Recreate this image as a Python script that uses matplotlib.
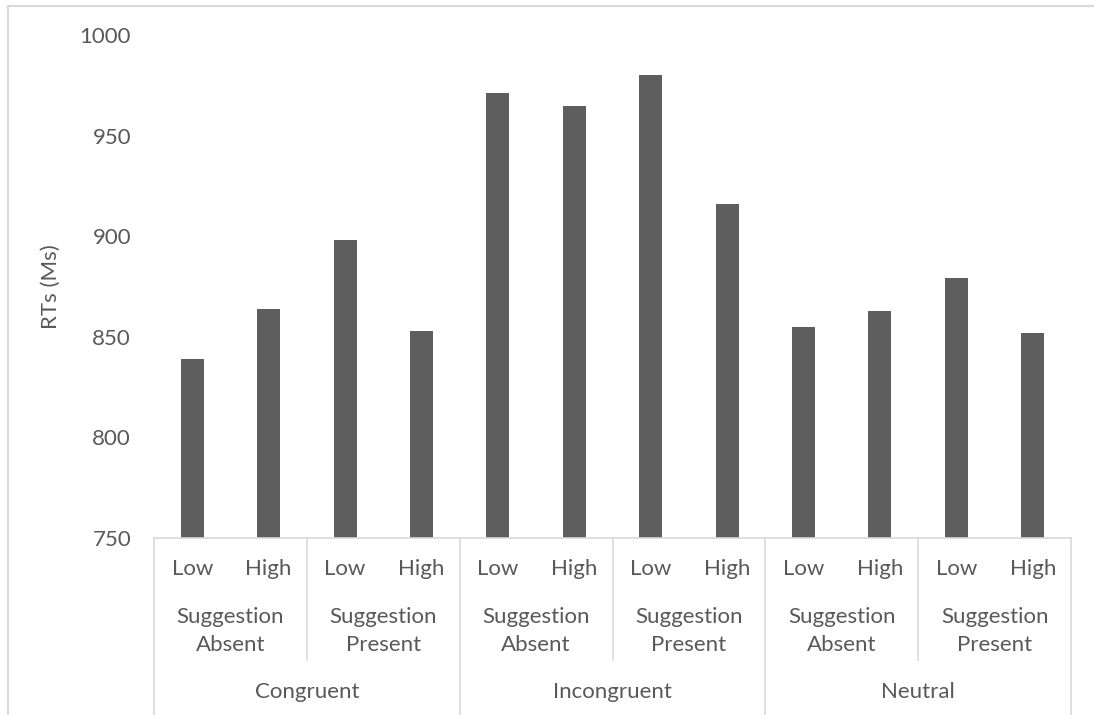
import matplotlib
matplotlib.use('Agg')
import matplotlib.pyplot as plt
import matplotlib.transforms as mtransforms
from matplotlib.lines import Line2D

# data
conditions = ['Congruent', 'Incongruent', 'Neutral']
suggestion = ['Suggestion\nAbsent', 'Suggestion\nPresent']
levels = ['Low', 'High']
rts = [839, 864, 898, 853,     # Congruent
       971, 965, 980, 916,     # Incongruent
       855, 863, 879, 852]     # Neutral

plt.rcParams['font.family'] = ['Lato', 'DejaVu Sans']
txt = '#595959'
grid = '#D9D9D9'
fs = 16

W, H = 1094, 715
fig = plt.figure(figsize=(W / 100, H / 100), dpi=100)

left, right, top, bottom = 154, 1071, 35.2, 537.7
ax = fig.add_axes([left / W, 1 - bottom / H, (right - left) / W, (bottom - top) / H])

x = list(range(len(rts)))
ax.bar(x, [v - 750 for v in rts], bottom=750, width=0.3, color='#5E5E5E', zorder=2)

ax.set_xlim(-0.5, len(rts) - 0.5)
ax.set_ylim(750, 1000)
ax.set_yticks(range(750, 1001, 50))
# pad is in points: ~23 px gap between labels and plot area
ax.tick_params(axis='y', length=0, pad=16.5, labelsize=fs, labelcolor=txt)
ax.set_xticks([])
for s in ['left', 'right', 'top']:
    ax.spines[s].set_visible(False)
ax.spines['bottom'].set_color(grid)
ax.spines['bottom'].set_linewidth(1.2)

ax.set_ylabel('RTs (Ms)', fontsize=fs, color=txt)
ax.yaxis.set_label_coords(-(left - 61) / (right - left), 0.5)

# multi-level category axis
tr = mtransforms.blended_transform_factory(ax.transData, fig.transFigure)
def fy(p):
    return 1 - p / H

for i in range(len(rts)):
    ax.text(i, fy(569), levels[i % 2], transform=tr, ha='center', va='center',
            fontsize=fs, color=txt)
for j in range(6):
    ax.text(2 * j + 0.5, fy(631), suggestion[j % 2], transform=tr, ha='center',
            va='center', fontsize=fs, color=txt, linespacing=1.55)
for k in range(3):
    ax.text(4 * k + 1.5, fy(692), conditions[k], transform=tr, ha='center',
            va='center', fontsize=fs, color=txt)

for b in [-0.5, 1.5, 3.5, 5.5, 7.5, 9.5, 11.5]:
    end = 0 if (b + 0.5) % 4 == 0 else fy(660)
    fig.add_artist(Line2D([b, b], [fy(bottom), end], transform=tr, color=grid,
                          lw=1.2, clip_on=False))

# chart area border (left and top)
fig.add_artist(Line2D([8 / W, 8 / W], [0, fy(6)], transform=fig.transFigure, color=grid, lw=1.5))
fig.add_artist(Line2D([8 / W, 1], [fy(6), fy(6)], transform=fig.transFigure, color=grid, lw=1.5))

fig.savefig('out.png', dpi=100)
